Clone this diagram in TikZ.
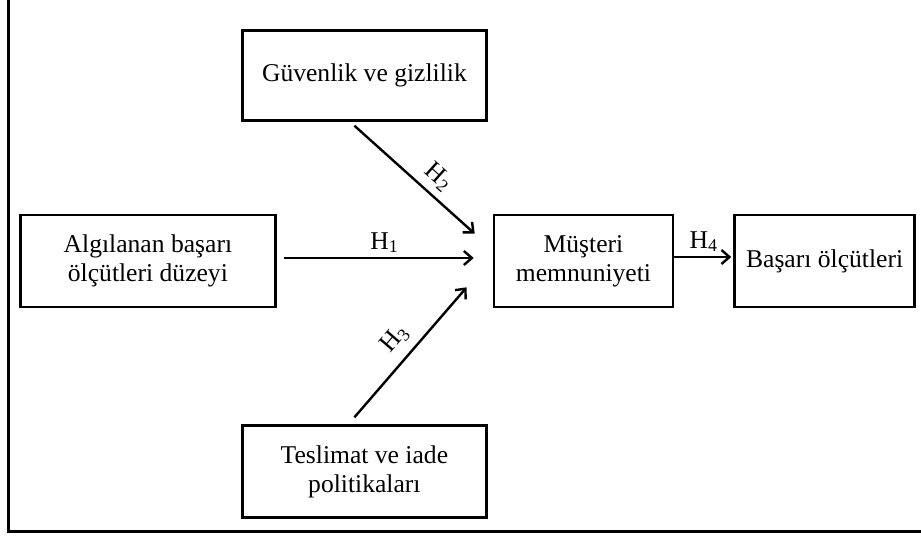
\documentclass[tikz,border=0pt]{standalone}
\usepackage{fontspec}
\setmainfont{Liberation Serif}
\usetikzlibrary{positioning,arrows.meta}

\tikzset{
  kutu/.style={draw, line width=1.3pt, minimum height=46pt, inner sep=0pt, align=center, font=\fontsize{12.8pt}{14.5pt}\selectfont},
  ok/.style={line width=1.2pt, -{Straight Barb[length=4pt,width=7pt]}},
  etiket/.style={inner sep=1pt, font=\fontsize{12.8pt}{14.5pt}\selectfont},
}

\begin{document}
\begin{tikzpicture}
 \useasboundingbox (0,0) rectangle (460.5pt,268pt);
 % outer frame
 \draw [line width=1.5pt] (4pt,280pt) |- (470pt,2.5pt);
 \node [kutu, minimum width=89.5pt] (musteri) at (291.75pt,137.5pt) {Müşteri\\memnuniyeti};
 \node [kutu, minimum width=90pt, right=29.5pt of musteri] (basari) {Başarı ölçütleri};
 \node [kutu, minimum width=127.5pt, left=108pt of musteri] (algilanan) {Algılanan başarı\\ölçütleri düzeyi};
 \node [kutu, minimum width=122pt, minimum height=45pt, above left=46pt and 2.5pt of musteri] (guvenlik) {Güvenlik ve gizlilik};
 \node [kutu, minimum width=122pt, below left=58pt and 2.5pt of musteri] (teslimat) {Teslimat ve iade\\politikaları};
 % hypotheses
 \draw [ok, shorten <=3.5pt, shorten >=9.5pt] ([yshift=1.5pt]algilanan.east) -- node [etiket, above=1pt] {H\textsubscript{1}} ([yshift=1.5pt]musteri.west);
 \draw [ok] ([xshift=-5pt,yshift=-2pt]guvenlik.south) -- node [etiket, pos=0.6, sloped, above=2.5pt] {H\textsubscript{2}} ([xshift=-9pt,yshift=-10pt]musteri.north west);
 \draw [ok] ([xshift=-5pt,yshift=3.5pt]teslimat.north) -- node [etiket, pos=0.5, sloped, above=3.5pt] {H\textsubscript{3}} ([xshift=-13pt,yshift=10.5pt]musteri.south west);
 \draw [ok, shorten >=1pt] ([yshift=2pt]musteri.east) -- node [etiket, above=1pt] {H\textsubscript{4}} ([yshift=2pt]basari.west);
\end{tikzpicture}
\end{document}
